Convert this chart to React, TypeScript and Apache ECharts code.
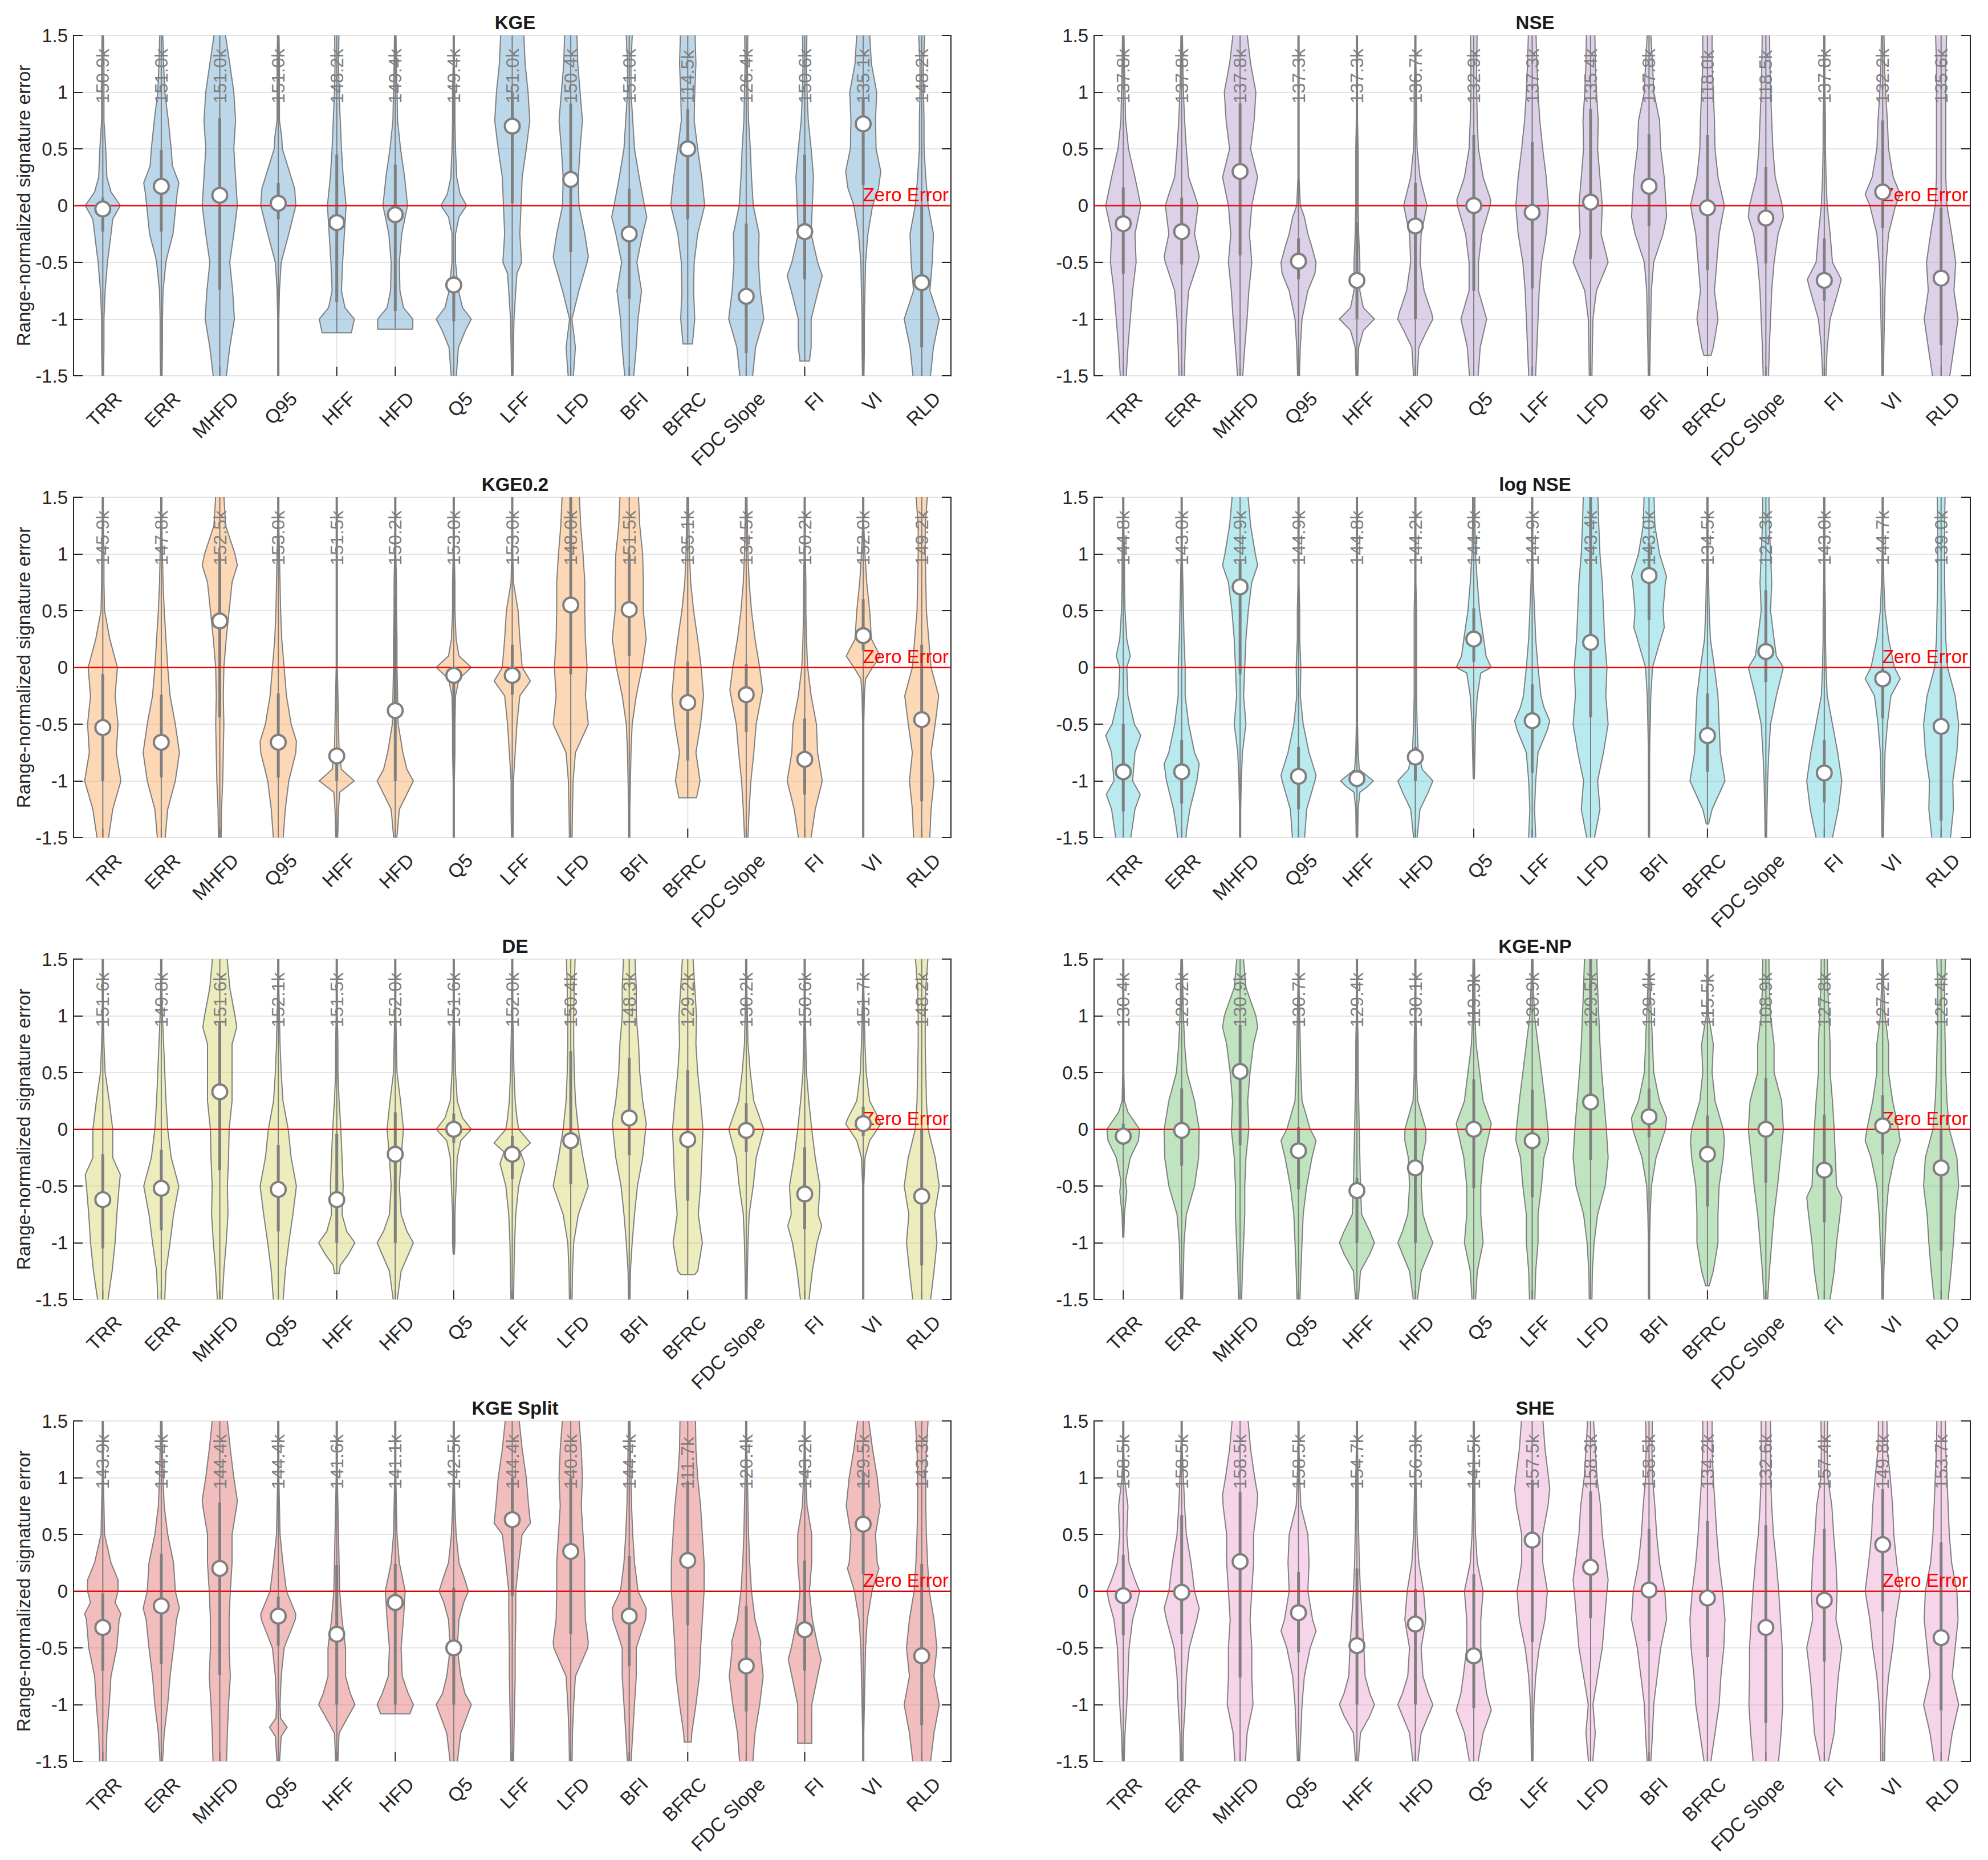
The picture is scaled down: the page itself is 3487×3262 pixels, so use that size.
import React, { useEffect, useRef } from 'react';
import * as echarts from 'echarts';

const categories = ['TRR', 'ERR', 'MHFD', 'Q95', 'HFF', 'HFD', 'Q5', 'LFF', 'LFD', 'BFI', 'BFRC', 'FDC Slope', 'FI', 'VI', 'RLD'];
const panelTitles = ['KGE', 'NSE', 'KGE0.2', 'log NSE', 'DE', 'KGE-NP', 'KGE Split', 'SHE'];
// translucent fills, so the grid shows through the violins as in the original
const panelColors = [
  'rgba(88,153,203,0.4)',
  'rgba(170,140,202,0.4)',
  'rgba(250,158,73,0.4)',
  'rgba(78,203,218,0.4)',
  'rgba(208,208,88,0.4)',
  'rgba(100,188,98,0.4)',
  'rgba(223,90,90,0.4)',
  'rgba(233,150,203,0.4)',
];

// violin outlines: [y, half width (% of category slot), ...] from top to bottom
const kgeShape = [
  [1.5, 1, 1.25, 2, 1.0, 2, 0.75, 2, 0.5, 5, 0.25, 7, 0.12, 14, 0, 30, -0.12, 17, -0.25, 14, -0.5, 8, -0.75, 4, -1, 2, -1.25, 2, -1.5, 1],
  [1.5, 2, 1.25, 4, 1.0, 6, 0.75, 12, 0.5, 17, 0.35, 19, 0.2, 30, 0.1, 27, 0, 25, -0.25, 20, -0.45, 10, -0.5, 8, -0.75, 3, -1, 2, -1.25, 2, -1.5, 1],
  [1.5, 7, 1.25, 17, 1.0, 24, 0.75, 27, 0.5, 24, 0.25, 27, 0, 30, -0.25, 24, -0.5, 17, -0.75, 22, -1, 25, -1.25, 17, -1.5, 9],
  [1.5, 1, 1.25, 2, 1.0, 2, 0.75, 2, 0.6, 6, 0.5, 7, 0.25, 22, 0.15, 28, 0, 30, -0.25, 18, -0.5, 5, -0.75, 2, -1, 1, -1.25, 1, -1.5, 1],
  [1.5, 4, 1.25, 3, 1.0, 4, 0.75, 6, 0.5, 8, 0.25, 11, 0, 16, -0.25, 13, -0.5, 10, -0.75, 8, -0.9, 14, -1.0, 30, -1.12, 25],
  [1.5, 1, 1.25, 2, 1.0, 3, 0.75, 4, 0.5, 9, 0.25, 16, 0, 21, -0.25, 11, -0.5, 7, -0.75, 8, -0.9, 14, -1.0, 30, -1.09, 30],
  [1.5, 1, 1.25, 1, 1.0, 2, 0.75, 2, 0.5, 3, 0.25, 5, 0.1, 11, 0, 22, -0.1, 9, -0.25, 3, -0.5, 3, -0.75, 8, -0.9, 15, -1.0, 30, -1.1, 20, -1.25, 8, -1.5, 3],
  [1.5, 19, 1.25, 22, 1.0, 27, 0.75, 30, 0.5, 24, 0.25, 17, 0, 15, -0.25, 13, -0.5, 16, -0.6, 8, -0.75, 6, -1, 3, -1.25, 2, -1.5, 1],
  [1.5, 10, 1.25, 12, 1.0, 16, 0.75, 20, 0.5, 16, 0.25, 13, 0, 14, -0.25, 24, -0.45, 30, -0.5, 28, -0.75, 14, -1, 2, -1.25, 8, -1.5, 3],
  [1.5, 6, 1.25, 3, 1.0, 3, 0.75, 6, 0.5, 9, 0.25, 17, 0, 26, -0.1, 30, -0.25, 23, -0.5, 13, -0.75, 21, -1.0, 15, -1.25, 12, -1.5, 6],
  [1.5, 12, 1.25, 14, 1.0, 12, 0.75, 11, 0.5, 17, 0.25, 24, 0, 29, -0.25, 17, -0.5, 11, -0.75, 10, -1.0, 12, -1.22, 8],
  [1.5, 3, 1.25, 2, 1.0, 3, 0.75, 4, 0.5, 7, 0.25, 9, 0, 12, -0.25, 22, -0.5, 21, -0.75, 24, -1.0, 30, -1.25, 16, -1.5, 9],
  [1.5, 4, 1.25, 3, 1.0, 4, 0.75, 6, 0.5, 11, 0.25, 15, 0, 13, -0.25, 11, -0.5, 22, -0.62, 30, -0.75, 23, -1.0, 11, -1.25, 11, -1.37, 8],
  [1.5, 10, 1.25, 14, 1.0, 23, 0.75, 21, 0.5, 22, 0.3, 30, 0.15, 26, 0, 16, -0.25, 8, -0.5, 4, -0.75, 3, -1, 2, -1.25, 2, -1.5, 1],
  [1.5, 6, 1.25, 3, 1.0, 3, 0.75, 4, 0.5, 4, 0.25, 7, 0, 11, -0.25, 20, -0.5, 18, -0.75, 14, -1.0, 30, -1.25, 20, -1.5, 13],
];
const kgeMedian = [-0.03, 0.17, 0.09, 0.02, -0.15, -0.08, -0.7, 0.7, 0.23, -0.25, 0.5, -0.8, -0.23, 0.72, -0.68];
const kgeQ3 = [0.07, 0.49, 0.77, 0.2, 0.45, 0.36, -0.62, 1.0, 0.9, 0.15, 0.85, -0.16, 0.45, 0.95, 0.0];
const kgeQ1 = [-0.23, -0.23, -0.74, -0.12, -0.85, -0.93, -1.02, 0.02, -0.41, -0.82, -0.12, -1.3, -0.65, 0.18, -1.25];
const kgeCount = ['150.9k', '151.0k', '151.0k', '151.0k', '148.2k', '149.4k', '149.4k', '151.0k', '150.4k', '151.0k', '114.5k', '126.4k', '150.6k', '135.1k', '148.2k'];

const nseShape = [
  [1.5, 1, 1.25, 2, 1.0, 3, 0.75, 4, 0.5, 9, 0.25, 20, 0, 30, -0.25, 20, -0.5, 22, -0.75, 16, -1.0, 12, -1.25, 8, -1.5, 4],
  [1.5, 1, 1.25, 2, 1.0, 3, 0.75, 5, 0.5, 8, 0.25, 12, 0.1, 22, 0, 28, -0.25, 22, -0.45, 30, -0.5, 28, -0.75, 12, -1.0, 8, -1.25, 6, -1.5, 4],
  [1.5, 10, 1.25, 18, 1.0, 27, 0.75, 24, 0.5, 18, 0.25, 30, 0, 20, -0.25, 16, -0.5, 20, -0.75, 15, -1.0, 12, -1.25, 8, -1.5, 3],
  [1.5, 1, 1.25, 1, 1.0, 1, 0.75, 1, 0.5, 1, 0.25, 1, 0, 3, -0.1, 10, -0.25, 16, -0.35, 22, -0.5, 30, -0.6, 28, -0.75, 16, -1.0, 6, -1.25, 3, -1.5, 1],
  [1.5, 1, 1.25, 1, 1.0, 1, 0.75, 1, 0.5, 2, 0.25, 2, 0, 2, -0.25, 3, -0.5, 5, -0.75, 5, -0.9, 11, -1.0, 30, -1.1, 11, -1.25, 3, -1.5, 1],
  [1.5, 1, 1.25, 1, 1.0, 2, 0.75, 2, 0.5, 3, 0.25, 8, 0, 20, -0.25, 10, -0.5, 8, -0.75, 15, -0.95, 28, -1.0, 30, -1.1, 20, -1.25, 6, -1.5, 2],
  [1.5, 6, 1.25, 5, 1.0, 5, 0.75, 6, 0.5, 8, 0.25, 16, 0.05, 29, 0, 28, -0.25, 14, -0.5, 8, -0.75, 8, -1.0, 22, -1.25, 11, -1.5, 6],
  [1.5, 6, 1.25, 8, 1.0, 10, 0.75, 13, 0.5, 18, 0.25, 24, 0, 28, -0.25, 24, -0.5, 16, -0.75, 12, -1.0, 10, -1.25, 8, -1.5, 5],
  [1.5, 7, 1.25, 8, 1.0, 10, 0.75, 13, 0.5, 12, 0.25, 16, 0, 20, -0.25, 18, -0.5, 30, -0.75, 10, -1.0, 4, -1.25, 3, -1.5, 2],
  [1.5, 2, 1.25, 6, 1.0, 8, 0.75, 18, 0.5, 20, 0.25, 26, 0, 29, -0.1, 30, -0.25, 24, -0.5, 8, -0.75, 4, -1.0, 3, -1.25, 2, -1.5, 1],
  [1.5, 8, 1.25, 8, 1.0, 10, 0.75, 12, 0.5, 13, 0.25, 18, 0, 29, -0.25, 20, -0.5, 16, -0.75, 12, -1.0, 18, -1.25, 10, -1.32, 6],
  [1.5, 6, 1.25, 7, 1.0, 8, 0.75, 10, 0.5, 12, 0.25, 16, 0, 28, -0.1, 30, -0.25, 21, -0.5, 14, -0.75, 10, -1.0, 8, -1.25, 6, -1.5, 4],
  [1.5, 1, 1.25, 1, 1.0, 1, 0.75, 2, 0.5, 2, 0.25, 3, 0, 5, -0.25, 10, -0.5, 14, -0.65, 29, -0.75, 24, -1.0, 10, -1.25, 5, -1.5, 2],
  [1.5, 2, 1.25, 3, 1.0, 5, 0.75, 8, 0.5, 10, 0.25, 18, 0.1, 30, 0, 22, -0.25, 10, -0.5, 6, -0.75, 4, -1.0, 3, -1.25, 2, -1.5, 1],
  [1.5, 10, 1.25, 8, 1.0, 8, 0.75, 8, 0.5, 8, 0.25, 8, 0, 10, -0.25, 18, -0.5, 25, -0.75, 22, -1.0, 29, -1.25, 22, -1.5, 12],
];
const nseMedian = [-0.16, -0.23, 0.3, -0.49, -0.66, -0.18, 0.0, -0.06, 0.03, 0.17, -0.02, -0.11, -0.66, 0.12, -0.64];
const nseQ3 = [0.16, 0.07, 0.9, -0.29, -0.15, 0.2, 0.62, 0.56, 0.85, 0.63, 0.62, 0.34, -0.29, 0.75, -0.02];
const nseQ1 = [-0.6, -0.52, -0.44, -0.65, -1.0, -1.0, -0.75, -0.73, -0.47, -0.18, -0.57, -0.51, -0.84, -0.2, -1.23];
const nseCount = ['137.8k', '137.8k', '137.8k', '137.3k', '137.3k', '136.7k', '132.9k', '137.3k', '135.4k', '137.8k', '118.0k', '118.5k', '137.8k', '132.2k', '135.6k'];

const kge02Shape = [
  [1.5, 1, 1.25, 1, 1.0, 2, 0.75, 2, 0.5, 3, 0.25, 12, 0, 25, -0.25, 21, -0.5, 26, -0.75, 23, -1.0, 31, -1.25, 17, -1.5, 7],
  [1.5, 1, 1.25, 1, 1.0, 2, 0.75, 3, 0.5, 5, 0.25, 8, 0, 11, -0.25, 15, -0.5, 24, -0.75, 31, -1.0, 24, -1.25, 11, -1.5, 5],
  [1.5, 6, 1.25, 10, 1.0, 26, 0.9, 30, 0.75, 21, 0.5, 16, 0.25, 11, 0, 7, -0.25, 6, -0.5, 7, -0.75, 6, -1.0, 5, -1.25, 3, -1.5, 2],
  [1.5, 1, 1.25, 1, 1.0, 2, 0.75, 3, 0.5, 4, 0.25, 6, 0, 10, -0.25, 14, -0.5, 22, -0.65, 31, -0.75, 30, -1.0, 18, -1.25, 12, -1.5, 7],
  [1.5, 1, 1.25, 1, 1.0, 1, 0.75, 1, 0.5, 1, 0.25, 1, 0, 1, -0.25, 2, -0.5, 3, -0.75, 4, -0.9, 8, -1.0, 30, -1.1, 5, -1.25, 3, -1.5, 1],
  [1.5, 1, 1.25, 1, 1.0, 1, 0.75, 2, 0.5, 2, 0.25, 3, 0, 3, -0.25, 4, -0.5, 5, -0.75, 13, -0.9, 20, -1.0, 31, -1.25, 7, -1.5, 1],
  [1.5, 1, 1.25, 1, 1.0, 1, 0.75, 2, 0.5, 2, 0.25, 4, 0.1, 9, 0, 30, -0.1, 9, -0.25, 3, -0.5, 2, -0.75, 2, -1.0, 1, -1.25, 1, -1.5, 1],
  [1.5, 1, 1.25, 1, 1.0, 1, 0.75, 2, 0.5, 10, 0.25, 13, 0, 17, -0.12, 31, -0.25, 13, -0.5, 8, -0.75, 5, -1.0, 2, -1.25, 2, -1.5, 1],
  [1.5, 14, 1.25, 17, 1.0, 21, 0.75, 24, 0.5, 24, 0.25, 25, 0, 28, -0.25, 25, -0.5, 30, -0.75, 8, -1.0, 4, -1.25, 3, -1.5, 2],
  [1.5, 15, 1.25, 18, 1.0, 23, 0.75, 24, 0.5, 24, 0.25, 29, 0, 22, -0.25, 12, -0.5, 5, -0.75, 3, -1.0, 2, -1.25, 1, -1.5, 1],
  [1.5, 1, 1.25, 2, 1.0, 3, 0.75, 5, 0.5, 10, 0.25, 17, 0, 23, -0.25, 27, -0.5, 22, -0.75, 14, -1.0, 21, -1.15, 15],
  [1.5, 1, 1.25, 2, 1.0, 3, 0.75, 5, 0.5, 9, 0.25, 15, 0, 23, -0.2, 28, -0.5, 17, -0.75, 13, -1.0, 8, -1.25, 5, -1.5, 2],
  [1.5, 1, 1.25, 1, 1.0, 1, 0.75, 2, 0.5, 2, 0.25, 3, 0, 5, -0.25, 11, -0.5, 20, -0.75, 22, -1.0, 30, -1.25, 18, -1.5, 8],
  [1.5, 1, 1.25, 1, 1.0, 3, 0.75, 6, 0.5, 11, 0.25, 14, 0.1, 29, 0, 16, -0.1, 4, -0.25, 2, -0.5, 1, -0.75, 1, -1.0, 1, -1.25, 1, -1.5, 1],
  [1.5, 11, 1.25, 6, 1.0, 6, 0.75, 7, 0.5, 8, 0.25, 12, 0, 16, -0.25, 29, -0.5, 23, -0.75, 16, -1.0, 21, -1.25, 16, -1.5, 13],
];
const kge02Median = [-0.53, -0.66, 0.41, -0.66, -0.78, -0.38, -0.07, -0.07, 0.55, 0.51, -0.31, -0.24, -0.81, 0.28, -0.46];
const kge02Q3 = [-0.06, -0.24, 1.0, -0.23, -0.74, 0.63, -0.02, 0.2, 1.5, 1.0, 0.05, 0.03, -0.45, 0.6, 0.2];
const kge02Q1 = [-1.0, -0.97, -0.44, -0.97, -1.0, -1.0, -0.53, -0.24, -0.06, 0.1, -0.82, -0.57, -1.12, 0.15, -1.18];
const kge02Count = ['145.9k', '147.8k', '152.5k', '153.0k', '151.5k', '150.2k', '153.0k', '153.0k', '148.0k', '151.5k', '135.1k', '134.5k', '150.2k', '152.0k', '149.2k'];

const logNseShape = [
  [1.5, 1, 1.25, 1, 1.0, 2, 0.75, 2, 0.5, 3, 0.25, 6, 0.1, 12, 0, 6, -0.25, 8, -0.5, 19, -0.6, 30, -0.75, 20, -1.0, 16, -1.12, 29, -1.25, 20, -1.5, 10],
  [1.5, 1, 1.25, 1, 1.0, 1, 0.75, 2, 0.5, 3, 0.25, 4, 0, 6, -0.25, 6, -0.5, 12, -0.75, 22, -0.85, 30, -1.0, 26, -1.25, 14, -1.45, 8, -1.5, 6],
  [1.5, 12, 1.25, 18, 1.0, 26, 0.9, 30, 0.75, 20, 0.5, 14, 0.25, 10, 0, 8, -0.25, 6, -0.5, 10, -0.75, 4, -1.0, 2, -1.25, 1, -1.5, 1],
  [1.5, 1, 1.25, 1, 1.0, 1, 0.75, 1, 0.5, 2, 0.25, 2, 0, 4, -0.25, 3, -0.5, 8, -0.75, 18, -0.95, 30, -1.0, 28, -1.25, 14, -1.5, 9],
  [1.5, 1, 1.25, 1, 1.0, 1, 0.75, 1, 0.5, 1, 0.25, 1, 0, 1, -0.25, 1, -0.5, 1, -0.75, 2, -0.9, 4, -1.0, 28, -1.05, 18, -1.1, 5, -1.25, 2, -1.5, 1],
  [1.5, 1, 1.25, 1, 1.0, 1, 0.75, 1, 0.5, 2, 0.25, 2, 0, 2, -0.25, 2, -0.5, 3, -0.75, 5, -0.9, 12, -1.0, 30, -1.1, 22, -1.25, 8, -1.5, 1],
  [1.5, 2, 1.25, 2, 1.0, 3, 0.75, 6, 0.5, 10, 0.25, 17, 0.1, 21, 0, 30, -0.05, 12, -0.25, 6, -0.5, 3, -0.75, 2, -0.98, 1],
  [1.5, 1, 1.25, 1, 1.0, 1, 0.75, 2, 0.5, 4, 0.25, 6, 0, 10, -0.25, 15, -0.35, 20, -0.47, 30, -0.55, 26, -0.75, 10, -1.0, 6, -1.25, 4, -1.5, 7],
  [1.5, 12, 1.25, 14, 1.0, 16, 0.75, 20, 0.5, 22, 0.25, 24, 0, 28, -0.25, 26, -0.5, 30, -0.75, 22, -1.0, 12, -1.25, 16, -1.5, 3],
  [1.5, 8, 1.25, 10, 1.0, 18, 0.8, 30, 0.75, 28, 0.5, 24, 0.35, 26, 0.25, 20, 0, 6, -0.25, 3, -0.5, 2, -0.75, 1, -1.0, 1, -1.25, 1, -1.5, 1],
  [1.5, 1, 1.25, 1, 1.0, 1, 0.75, 2, 0.5, 3, 0.25, 5, 0, 12, -0.25, 18, -0.5, 20, -0.75, 22, -1.0, 30, -1.25, 8, -1.38, 2],
  [1.5, 5, 1.25, 6, 1.0, 8, 0.75, 10, 0.5, 8, 0.25, 14, 0.1, 18, 0, 30, -0.25, 18, -0.5, 8, -0.75, 5, -1.0, 3, -1.25, 2, -1.5, 1],
  [1.5, 1, 1.25, 1, 1.0, 1, 0.75, 1, 0.5, 2, 0.25, 2, 0, 3, -0.25, 5, -0.5, 14, -0.75, 23, -1.0, 30, -1.25, 24, -1.5, 10],
  [1.5, 1, 1.25, 1, 1.0, 1, 0.75, 2, 0.5, 4, 0.25, 10, 0, 20, -0.1, 30, -0.25, 14, -0.5, 8, -0.75, 4, -1.0, 3, -1.25, 2, -1.5, 1],
  [1.5, 7, 1.25, 6, 1.0, 6, 0.75, 6, 0.5, 7, 0.25, 8, 0, 11, -0.25, 24, -0.5, 30, -0.75, 27, -1.0, 20, -1.25, 21, -1.5, 14],
];
const logNseMedian = [-0.92, -0.92, 0.71, -0.96, -0.98, -0.79, 0.25, -0.47, 0.22, 0.81, -0.6, 0.14, -0.93, -0.1, -0.52];
const logNseQ3 = [-0.5, -0.64, 0.95, -0.7, -0.92, -0.7, 0.52, -0.15, 1.5, 1.1, -0.23, 0.68, -0.64, 0.0, 0.0];
const logNseQ1 = [-1.27, -1.2, -0.06, -1.25, -1.02, -1.0, 0.05, -0.93, -0.44, 0.42, -0.92, -0.13, -1.19, -0.45, -1.35];
const logNseCount = ['144.8k', '143.0k', '144.9k', '144.9k', '144.8k', '144.2k', '144.9k', '144.9k', '143.4k', '143.0k', '134.5k', '124.3k', '143.0k', '144.7k', '139.0k'];

const deShape = [
  [1.5, 1, 1.25, 1, 1.0, 1, 0.75, 2, 0.5, 4, 0.25, 11, 0, 17, -0.25, 17, -0.4, 30, -0.5, 28, -0.75, 24, -1.0, 21, -1.25, 16, -1.5, 6],
  [1.5, 1, 1.25, 1, 1.0, 2, 0.75, 4, 0.5, 6, 0.25, 8, 0, 11, -0.25, 17, -0.5, 30, -0.75, 21, -1.0, 15, -1.25, 8, -1.5, 5],
  [1.5, 11, 1.25, 17, 1.0, 26, 0.9, 29, 0.75, 21, 0.5, 21, 0.25, 21, 0, 16, -0.25, 15, -0.5, 13, -0.75, 14, -1.0, 11, -1.25, 7, -1.5, 3],
  [1.5, 1, 1.25, 1, 1.0, 2, 0.75, 3, 0.5, 5, 0.25, 8, 0, 17, -0.25, 22, -0.5, 31, -0.75, 25, -1.0, 18, -1.25, 12, -1.5, 7],
  [1.5, 1, 1.25, 1, 1.0, 1, 0.75, 2, 0.5, 2, 0.25, 4, 0, 7, -0.25, 9, -0.5, 11, -0.75, 9, -0.9, 17, -1.0, 31, -1.1, 20, -1.2, 6, -1.27, 4],
  [1.5, 1, 1.25, 1, 1.0, 1, 0.75, 2, 0.5, 3, 0.25, 9, 0, 14, -0.25, 10, -0.5, 7, -0.75, 10, -0.9, 20, -1.0, 31, -1.25, 10, -1.5, 1],
  [1.5, 1, 1.25, 1, 1.0, 1, 0.75, 2, 0.5, 3, 0.25, 6, 0.1, 15, 0, 30, -0.1, 12, -0.25, 6, -0.5, 4, -0.75, 2, -1.0, 2, -1.1, 1],
  [1.5, 1, 1.25, 1, 1.0, 1, 0.75, 2, 0.5, 3, 0.25, 5, 0.1, 8, 0, 11, -0.12, 31, -0.2, 14, -0.3, 21, -0.5, 11, -0.75, 6, -1.0, 4, -1.25, 3, -1.5, 2],
  [1.5, 8, 1.25, 6, 1.0, 5, 0.75, 5, 0.5, 6, 0.25, 8, 0, 13, -0.25, 21, -0.5, 30, -0.75, 13, -1.0, 5, -1.25, 3, -1.5, 2],
  [1.5, 9, 1.25, 12, 1.0, 12, 0.75, 16, 0.5, 18, 0.25, 23, 0.05, 29, -0.25, 23, -0.5, 14, -0.75, 9, -1.0, 5, -1.25, 2, -1.5, 1],
  [1.5, 8, 1.25, 12, 1.0, 15, 0.75, 14, 0.5, 17, 0.25, 22, 0, 26, -0.25, 24, -0.5, 22, -0.75, 18, -1.0, 25, -1.25, 17, -1.28, 12],
  [1.5, 1, 1.25, 1, 1.0, 2, 0.75, 3, 0.5, 7, 0.25, 13, 0, 30, -0.25, 17, -0.5, 12, -0.75, 5, -1.0, 3, -1.25, 2, -1.5, 1],
  [1.5, 1, 1.25, 1, 1.0, 1, 0.75, 2, 0.5, 3, 0.25, 7, 0, 12, -0.25, 18, -0.5, 26, -0.75, 23, -0.85, 29, -1.0, 21, -1.25, 13, -1.5, 5],
  [1.5, 1, 1.25, 1, 1.0, 2, 0.75, 3, 0.5, 5, 0.25, 11, 0.1, 26, 0.05, 30, 0, 24, -0.1, 11, -0.25, 3, -0.5, 1, -0.75, 1, -1.0, 1, -1.25, 1, -1.5, 1],
  [1.5, 12, 1.25, 7, 1.0, 6, 0.75, 6, 0.5, 7, 0.25, 8, 0, 11, -0.25, 23, -0.5, 30, -0.75, 22, -1.0, 26, -1.25, 21, -1.5, 13],
];
const deMedian = [-0.62, -0.52, 0.33, -0.53, -0.62, -0.22, 0.0, -0.22, -0.1, 0.1, -0.09, -0.01, -0.57, 0.05, -0.59];
const deQ3 = [-0.22, -0.18, 0.95, -0.14, -0.04, 0.15, 0.14, -0.06, 0.69, 0.63, 0.52, 0.23, -0.16, 0.2, 0.0];
const deQ1 = [-1.05, -0.89, -0.36, -0.9, -1.0, -1.0, -0.12, -0.44, -0.48, -0.23, -0.63, -0.2, -0.88, -0.06, -1.2];
const deCount = ['151.6k', '149.8k', '151.6k', '152.1k', '151.5k', '152.0k', '151.6k', '152.0k', '150.4k', '148.3k', '129.2k', '130.2k', '150.6k', '151.7k', '148.2k'];

const kgeNpShape = [
  [1.5, 1, 1.25, 1, 1.0, 1, 0.75, 1, 0.5, 1, 0.25, 2, 0.15, 8, 0, 28, -0.1, 26, -0.25, 12, -0.45, 4, -0.55, 6, -0.75, 2, -0.95, 1],
  [1.5, 1, 1.25, 2, 1.0, 3, 0.75, 5, 0.5, 9, 0.25, 22, 0, 30, -0.25, 29, -0.5, 22, -0.75, 8, -1.0, 4, -1.25, 3, -1.5, 1],
  [1.5, 4, 1.25, 10, 1.0, 27, 0.9, 30, 0.75, 23, 0.5, 17, 0.25, 13, 0, 15, -0.25, 10, -0.5, 8, -0.75, 8, -1.0, 6, -1.25, 4, -1.5, 2],
  [1.5, 1, 1.25, 1, 1.0, 2, 0.75, 3, 0.5, 4, 0.25, 6, 0, 20, -0.1, 30, -0.25, 23, -0.5, 14, -0.75, 8, -1.0, 6, -1.25, 4, -1.5, 2],
  [1.5, 1, 1.25, 1, 1.0, 1, 0.75, 2, 0.5, 2, 0.25, 3, 0, 4, -0.25, 5, -0.5, 6, -0.75, 8, -0.9, 22, -1.0, 30, -1.1, 22, -1.25, 6, -1.5, 1],
  [1.5, 1, 1.25, 1, 1.0, 1, 0.75, 2, 0.5, 2, 0.25, 4, 0, 18, -0.1, 18, -0.25, 12, -0.5, 10, -0.75, 13, -0.9, 22, -1.0, 30, -1.25, 10, -1.5, 1],
  [1.5, 1, 1.25, 2, 1.0, 2, 0.75, 4, 0.5, 10, 0.25, 16, 0.05, 30, 0, 28, -0.25, 17, -0.5, 12, -0.75, 12, -1.0, 16, -1.25, 6, -1.5, 2],
  [1.5, 1, 1.25, 2, 1.0, 4, 0.75, 10, 0.5, 16, 0.25, 22, 0, 27, -0.1, 28, -0.25, 20, -0.5, 16, -0.75, 10, -1.0, 10, -1.25, 6, -1.5, 4],
  [1.5, 10, 1.25, 12, 1.0, 14, 0.75, 16, 0.5, 19, 0.25, 23, 0, 27, -0.25, 30, -0.5, 25, -0.75, 12, -1.0, 6, -1.25, 3, -1.5, 2],
  [1.5, 1, 1.25, 2, 1.0, 4, 0.75, 6, 0.5, 8, 0.25, 18, 0.1, 30, 0, 28, -0.25, 12, -0.5, 4, -0.75, 2, -1.0, 1, -1.25, 1, -1.5, 1],
  [1.5, 1, 1.25, 1, 1.0, 2, 0.75, 10, 0.5, 8, 0.25, 13, 0, 27, -0.1, 29, -0.25, 27, -0.5, 20, -0.75, 18, -1.0, 18, -1.25, 10, -1.38, 3],
  [1.5, 5, 1.25, 6, 1.0, 8, 0.75, 14, 0.5, 14, 0.25, 27, 0, 30, -0.25, 25, -0.5, 20, -0.75, 14, -1.0, 10, -1.25, 6, -1.5, 2],
  [1.5, 5, 1.25, 6, 1.0, 8, 0.75, 10, 0.5, 10, 0.25, 14, 0, 17, -0.25, 19, -0.5, 21, -0.6, 30, -0.75, 27, -1.0, 21, -1.25, 17, -1.5, 7],
  [1.5, 1, 1.25, 2, 1.0, 4, 0.75, 10, 0.5, 10, 0.25, 17, 0, 27, -0.1, 30, -0.25, 20, -0.5, 10, -0.75, 6, -1.0, 4, -1.25, 2, -1.5, 1],
  [1.5, 8, 1.25, 6, 1.0, 6, 0.75, 7, 0.5, 8, 0.25, 10, 0, 14, -0.25, 27, -0.5, 30, -0.75, 24, -1.0, 21, -1.25, 17, -1.5, 10],
];
const kgeNpMedian = [-0.06, -0.01, 0.51, -0.19, -0.54, -0.34, 0.0, -0.1, 0.24, 0.11, -0.22, 0.0, -0.36, 0.03, -0.34];
const kgeNpQ3 = [0.05, 0.36, 0.92, 0.02, -0.43, 0.01, 0.44, 0.35, 1.5, 0.36, 0.12, 0.45, 0.13, 0.3, 0.0];
const kgeNpQ1 = [-0.14, -0.32, -0.14, -0.53, -1.0, -1.0, -0.52, -0.6, -0.27, -0.07, -0.68, -0.47, -0.82, -0.22, -1.07];
const kgeNpCount = ['130.4k', '129.2k', '130.9k', '130.7k', '129.4k', '130.1k', '119.3k', '130.9k', '129.5k', '129.4k', '115.5k', '108.9k', '127.8k', '127.2k', '125.4k'];

const kgeSplitShape = [
  [1.5, 1, 1.25, 1, 1.0, 1, 0.75, 2, 0.5, 3, 0.25, 14, 0.1, 26, 0, 26, -0.1, 21, -0.2, 31, -0.25, 28, -0.5, 24, -0.75, 14, -1.0, 11, -1.25, 7, -1.5, 5],
  [1.5, 1, 1.25, 2, 1.0, 3, 0.75, 5, 0.5, 11, 0.25, 21, 0, 24, -0.15, 31, -0.25, 26, -0.5, 21, -0.75, 15, -1.0, 11, -1.25, 5, -1.5, 1],
  [1.5, 11, 1.25, 18, 1.0, 24, 0.8, 30, 0.75, 29, 0.5, 21, 0.25, 21, 0, 18, -0.25, 16, -0.5, 16, -0.75, 18, -1.0, 15, -1.25, 13, -1.5, 11],
  [1.5, 1, 1.25, 1, 1.0, 1, 0.75, 2, 0.5, 3, 0.3, 7, 0.25, 8, 0, 14, -0.2, 30, -0.25, 29, -0.5, 10, -0.75, 5, -1.0, 3, -1.12, 4, -1.2, 15, -1.28, 5, -1.5, 1],
  [1.5, 1, 1.25, 1, 1.0, 1, 0.75, 2, 0.5, 3, 0.25, 4, 0, 5, -0.25, 9, -0.5, 15, -0.75, 15, -0.9, 23, -1.0, 31, -1.1, 20, -1.25, 4, -1.5, 1],
  [1.5, 1, 1.25, 1, 1.0, 1, 0.75, 2, 0.5, 3, 0.25, 7, 0, 17, -0.25, 14, -0.5, 10, -0.75, 12, -0.9, 22, -1.0, 31, -1.08, 25],
  [1.5, 1, 1.25, 1, 1.0, 1, 0.75, 2, 0.5, 4, 0.25, 9, 0.1, 19, 0, 25, -0.1, 17, -0.25, 9, -0.5, 6, -0.75, 12, -0.9, 19, -1.0, 30, -1.25, 12, -1.5, 4],
  [1.5, 10, 1.25, 17, 1.0, 24, 0.75, 28, 0.6, 31, 0.5, 17, 0.25, 11, 0, 6, -0.25, 6, -0.5, 5, -0.75, 5, -1.0, 4, -1.25, 3, -1.5, 2],
  [1.5, 13, 1.25, 18, 1.0, 20, 0.75, 18, 0.5, 21, 0.25, 24, 0, 24, -0.25, 25, -0.45, 30, -0.5, 29, -0.75, 8, -1.0, 5, -1.25, 3, -1.5, 2],
  [1.5, 1, 1.25, 2, 1.0, 3, 0.75, 4, 0.5, 6, 0.25, 9, 0, 15, -0.15, 29, -0.25, 28, -0.5, 12, -0.75, 12, -1.0, 9, -1.25, 6, -1.5, 2],
  [1.5, 13, 1.25, 14, 1.0, 17, 0.75, 22, 0.5, 25, 0.25, 28, 0, 28, -0.25, 25, -0.5, 22, -0.75, 20, -1.0, 14, -1.25, 7, -1.33, 6],
  [1.5, 1, 1.25, 1, 1.0, 2, 0.75, 3, 0.5, 4, 0.25, 6, 0, 9, -0.25, 15, -0.45, 25, -0.5, 24, -0.75, 29, -1.0, 23, -1.25, 15, -1.5, 10],
  [1.5, 1, 1.25, 1, 1.0, 2, 0.75, 4, 0.5, 12, 0.25, 12, 0, 8, -0.25, 13, -0.5, 23, -0.6, 28, -0.75, 22, -1.0, 12, -1.25, 12, -1.34, 12],
  [1.5, 7, 1.25, 16, 1.0, 24, 0.75, 29, 0.5, 21, 0.25, 24, 0.2, 27, 0, 15, -0.25, 7, -0.5, 4, -0.75, 3, -1.0, 2, -1.25, 1, -1.5, 1],
  [1.5, 12, 1.25, 8, 1.0, 7, 0.75, 7, 0.5, 8, 0.25, 10, 0, 13, -0.25, 21, -0.5, 26, -0.75, 21, -1.0, 30, -1.25, 21, -1.5, 13],
];
const kgeSplitMedian = [-0.32, -0.13, 0.2, -0.22, -0.38, -0.1, -0.5, 0.63, 0.35, -0.22, 0.27, -0.66, -0.34, 0.59, -0.57];
const kgeSplitQ3 = [-0.02, 0.33, 0.78, -0.05, 0.23, 0.24, 0.03, 1.0, 1.0, 0.31, 0.97, -0.13, 0.27, 1.05, 0.24];
const kgeSplitQ1 = [-0.7, -0.64, -0.74, -0.48, -1.0, -1.0, -1.0, -0.04, -0.38, -0.66, -0.3, -1.06, -0.7, 0.15, -1.18];
const kgeSplitCount = ['143.9k', '144.4k', '144.4k', '144.4k', '141.6k', '141.1k', '142.5k', '144.4k', '140.8k', '144.4k', '111.7k', '120.4k', '143.2k', '129.5k', '143.3k'];

const sheShape = [
  [1.5, 1, 1.25, 1, 1.0, 2, 0.75, 8, 0.5, 6, 0.25, 10, 0.1, 20, 0, 28, -0.1, 24, -0.25, 16, -0.5, 10, -0.75, 8, -1.0, 6, -1.25, 3, -1.5, 1],
  [1.5, 1, 1.25, 1, 1.0, 3, 0.75, 5, 0.5, 8, 0.25, 16, 0, 22, -0.15, 30, -0.25, 26, -0.5, 13, -0.75, 8, -1.0, 6, -1.25, 3, -1.5, 2],
  [1.5, 12, 1.25, 18, 1.0, 25, 0.85, 30, 0.75, 29, 0.5, 23, 0.25, 23, 0, 20, -0.25, 17, -0.5, 20, -0.75, 20, -1.0, 22, -1.25, 12, -1.5, 8],
  [1.5, 1, 1.25, 1, 1.0, 2, 0.75, 4, 0.5, 16, 0.25, 18, 0, 16, -0.25, 24, -0.35, 30, -0.5, 20, -0.75, 10, -1.0, 6, -1.25, 4, -1.5, 1],
  [1.5, 1, 1.25, 1, 1.0, 2, 0.75, 2, 0.5, 3, 0.25, 4, 0, 6, -0.25, 9, -0.5, 12, -0.75, 14, -0.9, 22, -1.0, 30, -1.1, 22, -1.25, 6, -1.5, 1],
  [1.5, 1, 1.25, 1, 1.0, 1, 0.75, 2, 0.5, 3, 0.25, 6, 0, 14, -0.25, 18, -0.5, 10, -0.75, 13, -0.9, 22, -1.0, 30, -1.25, 10, -1.5, 2],
  [1.5, 1, 1.25, 1, 1.0, 2, 0.75, 2, 0.5, 3, 0.25, 6, 0, 16, -0.25, 12, -0.5, 12, -0.75, 18, -0.9, 22, -1.05, 30, -1.25, 16, -1.5, 4],
  [1.5, 17, 1.25, 22, 1.0, 28, 0.9, 30, 0.75, 27, 0.5, 18, 0.25, 18, 0, 26, -0.25, 22, -0.5, 12, -0.75, 6, -1.0, 3, -1.25, 2, -1.5, 1],
  [1.5, 4, 1.25, 8, 1.0, 11, 0.75, 17, 0.5, 20, 0.25, 26, 0.1, 30, 0, 28, -0.25, 24, -0.5, 20, -0.75, 12, -1.0, 4, -1.25, 8, -1.5, 2],
  [1.5, 6, 1.25, 5, 1.0, 6, 0.75, 10, 0.5, 13, 0.25, 18, 0, 27, -0.25, 30, -0.5, 20, -0.75, 14, -1.0, 8, -1.25, 6, -1.5, 2],
  [1.5, 8, 1.25, 8, 1.0, 10, 0.75, 13, 0.5, 16, 0.25, 20, 0, 26, -0.25, 30, -0.5, 28, -0.75, 23, -1.0, 20, -1.25, 13, -1.5, 3],
  [1.5, 8, 1.25, 8, 1.0, 8, 0.75, 10, 0.5, 13, 0.25, 18, 0, 22, -0.25, 25, -0.5, 28, -0.75, 28, -1.0, 29, -1.25, 26, -1.5, 20],
  [1.5, 6, 1.25, 5, 1.0, 6, 0.75, 13, 0.5, 16, 0.25, 20, 0, 22, -0.25, 20, -0.5, 30, -0.75, 24, -1.0, 20, -1.25, 17, -1.5, 3],
  [1.5, 7, 1.25, 8, 1.0, 13, 0.75, 17, 0.5, 19, 0.25, 24, 0, 30, -0.25, 22, -0.5, 17, -0.75, 10, -1.0, 6, -1.25, 4, -1.5, 3],
  [1.5, 7, 1.25, 8, 1.0, 10, 0.75, 12, 0.5, 14, 0.25, 18, 0, 27, -0.25, 29, -0.5, 24, -0.75, 19, -1.0, 30, -1.25, 19, -1.5, 9],
];
const sheMedian = [-0.04, -0.01, 0.26, -0.19, -0.48, -0.29, -0.57, 0.45, 0.21, 0.01, -0.06, -0.32, -0.08, 0.41, -0.41];
const sheQ3 = [0.32, 0.67, 0.87, 0.17, 0.2, 0.02, 0.15, 0.98, 0.88, 0.55, 0.62, 0.58, 0.55, 0.9, 0.43];
const sheQ1 = [-0.39, -0.38, -0.76, -0.54, -1.0, -1.0, -1.03, -0.45, -0.24, -0.44, -0.58, -1.16, -0.62, -0.18, -1.05];
const sheCount = ['158.5k', '158.5k', '158.5k', '158.5k', '154.7k', '156.3k', '141.5k', '157.5k', '158.3k', '158.5k', '134.2k', '132.6k', '157.4k', '149.8k', '153.7k'];

const panels = [
  { shape: kgeShape, median: kgeMedian, q3: kgeQ3, q1: kgeQ1, count: kgeCount },
  { shape: nseShape, median: nseMedian, q3: nseQ3, q1: nseQ1, count: nseCount },
  { shape: kge02Shape, median: kge02Median, q3: kge02Q3, q1: kge02Q1, count: kge02Count },
  { shape: logNseShape, median: logNseMedian, q3: logNseQ3, q1: logNseQ1, count: logNseCount },
  { shape: deShape, median: deMedian, q3: deQ3, q1: deQ1, count: deCount },
  { shape: kgeNpShape, median: kgeNpMedian, q3: kgeNpQ3, q1: kgeNpQ1, count: kgeNpCount },
  { shape: kgeSplitShape, median: kgeSplitMedian, q3: kgeSplitQ3, q1: kgeSplitQ1, count: kgeSplitCount },
  { shape: sheShape, median: sheMedian, q3: sheQ3, q1: sheQ1, count: sheCount },
];

const FONT = '"Liberation Sans", Arial, Helvetica, sans-serif';
const AX = '#262626';
const EDGE = '#7f7f7f';
const colLeft = [129, 1919];
const colWidth = [1539, 1537];
const rowTop = [62, 872, 1682, 2492];
const plotH = 597;

// keep the violin ends that run past the axis outside the clip box
const ext = (v: number) => (v >= 1.5 ? 1.6 : v <= -1.5 ? -1.6 : v);

function makeRender(p: number) {
  const d = panels[p];
  const color = panelColors[p];
  return (params: any, api: any) => {
    const i = api.value(0);
    const slot = api.size([1, 0])[0];
    const cx = api.coord([i, 0])[0];
    const yp = (v: number) => api.coord([i, v])[1];
    const bottom = yp(-1.5);
    const top = yp(1.5);
    const s = d.shape[i];
    const ys: number[] = [];
    const ws: number[] = [];
    for (let k = 0; k < s.length; k += 2) {
      ys.push(s[k]);
      ws.push(s[k + 1]);
    }
    const left = ys.map((y, k) => [cx - (ws[k] * slot) / 100, yp(ext(y))]);
    const right = ys.map((y, k) => [cx + (ws[k] * slot) / 100, yp(ext(y))]).reverse();
    const children: any[] = [
      { type: 'line', shape: { x1: cx, y1: bottom, x2: cx, y2: top }, style: { stroke: '#e4e4e4', lineWidth: 2 } },
      { type: 'line', shape: { x1: cx, y1: bottom, x2: cx, y2: bottom - 16 }, style: { stroke: AX, lineWidth: 2 } },
      { type: 'polygon', shape: { points: left.concat(right) }, style: { fill: color, stroke: EDGE, lineWidth: 2 } },
      {
        type: 'line',
        shape: { x1: cx, y1: yp(ext(ys[0])), x2: cx, y2: yp(ext(ys[ys.length - 1])) },
        style: { stroke: EDGE, lineWidth: 2 },
      },
      { type: 'line', shape: { x1: cx, y1: yp(d.q1[i]), x2: cx, y2: yp(d.q3[i]) }, style: { stroke: EDGE, lineWidth: 5 } },
      {
        type: 'text',
        x: cx,
        y: yp(0.9),
        rotation: Math.PI / 2,
        style: {
          text: d.count[i],
          fill: EDGE,
          fontSize: 32,
          fontFamily: FONT,
          align: 'left',
          verticalAlign: 'middle',
        },
      },
    ];
    if (i === categories.length - 1) {
      const cs = params.coordSys;
      const y0 = yp(0);
      children.push({
        type: 'line',
        shape: { x1: cs.x, y1: y0, x2: cs.x + cs.width, y2: y0 },
        style: { stroke: '#ff0000', lineWidth: 2 },
      });
      children.push({
        type: 'text',
        x: cs.x + cs.width - 4,
        y: y0 - 3,
        style: {
          text: 'Zero Error',
          fill: '#ff0000',
          fontSize: 33,
          fontFamily: FONT,
          align: 'right',
          verticalAlign: 'bottom',
        },
      });
    }
    return { type: 'group', children };
  };
}

const App: React.FC = () => {
  const chartRef = useRef<HTMLDivElement>(null);

  useEffect(() => {
    if (!chartRef.current) return;
    const chart = echarts.init(chartRef.current, undefined, { renderer: 'svg' });

    const grids = panels.map((_, p) => ({
      left: colLeft[p % 2],
      top: rowTop[Math.floor(p / 2)],
      width: colWidth[p % 2],
      height: plotH,
      show: true,
      borderColor: AX,
      borderWidth: 2,
      backgroundColor: 'transparent',
    }));

    const xAxes = panels.map((_, p) => ({
      type: 'category',
      gridIndex: p,
      data: categories,
      axisLine: { show: true, lineStyle: { color: AX, width: 2 } },
      axisTick: { show: false },
      splitLine: { show: false },
      axisLabel: {
        rotate: 45,
        interval: 0,
        fontSize: 34,
        color: AX,
        fontFamily: FONT,
        margin: 0,
        align: 'right',
        verticalAlign: 'top',
        padding: [26, 5, 0, 0],
      },
    }));

    const yAxes: any[] = [];
    panels.forEach((_, p) => {
      yAxes.push({
        type: 'value',
        gridIndex: p,
        min: -1.5,
        max: 1.5,
        interval: 0.5,
        name: p % 2 === 0 ? 'Range-normalized signature error' : '',
        nameLocation: 'middle',
        nameGap: 70,
        nameTextStyle: { fontSize: 33, color: AX, fontFamily: FONT },
        axisLine: { show: true, lineStyle: { color: AX, width: 2 } },
        axisTick: { show: true, inside: true, length: 16, lineStyle: { color: AX, width: 2 } },
        axisLabel: { fontSize: 33, color: AX, fontFamily: FONT, margin: 10 },
        splitLine: { show: true, lineStyle: { color: '#e4e4e4', width: 2 } },
      });
      yAxes.push({
        type: 'value',
        gridIndex: p,
        position: 'right',
        min: -1.5,
        max: 1.5,
        interval: 0.5,
        axisLine: { show: true, lineStyle: { color: AX, width: 2 } },
        axisTick: { show: true, inside: true, length: 16, lineStyle: { color: AX, width: 2 } },
        axisLabel: { show: false },
        splitLine: { show: false },
      });
    });

    const series: any[] = [];
    panels.forEach((d, p) => {
      series.push({
        type: 'custom',
        xAxisIndex: p,
        yAxisIndex: 2 * p,
        clip: true,
        silent: true,
        z: 2,
        data: categories.map((_, i) => [i]),
        renderItem: makeRender(p),
      });
      series.push({
        type: 'scatter',
        xAxisIndex: p,
        yAxisIndex: 2 * p,
        silent: true,
        z: 5,
        symbol: 'circle',
        symbolSize: 26,
        itemStyle: { color: '#ffffff', borderColor: EDGE, borderWidth: 4, opacity: 1 },
        data: d.median.map((m, i) => [i, m]),
      });
    });

    const titles = panelTitles.map((t, p) => ({
      text: t,
      left: colLeft[p % 2] + colWidth[p % 2] / 2,
      top: rowTop[Math.floor(p / 2)] - 44,
      textAlign: 'center',
      textStyle: { fontSize: 33, fontWeight: 'bold', color: '#1a1a1a', fontFamily: FONT },
    }));

    chart.setOption({
      animation: false,
      backgroundColor: '#ffffff',
      title: titles,
      grid: grids,
      xAxis: xAxes,
      yAxis: yAxes,
      series,
    });

    return () => {
      chart.dispose();
    };
  }, []);

  return <div ref={chartRef} style={{ position: 'absolute', left: 0, top: 0, width: '3487px', height: '3262px' }} />;
};

export default App;
